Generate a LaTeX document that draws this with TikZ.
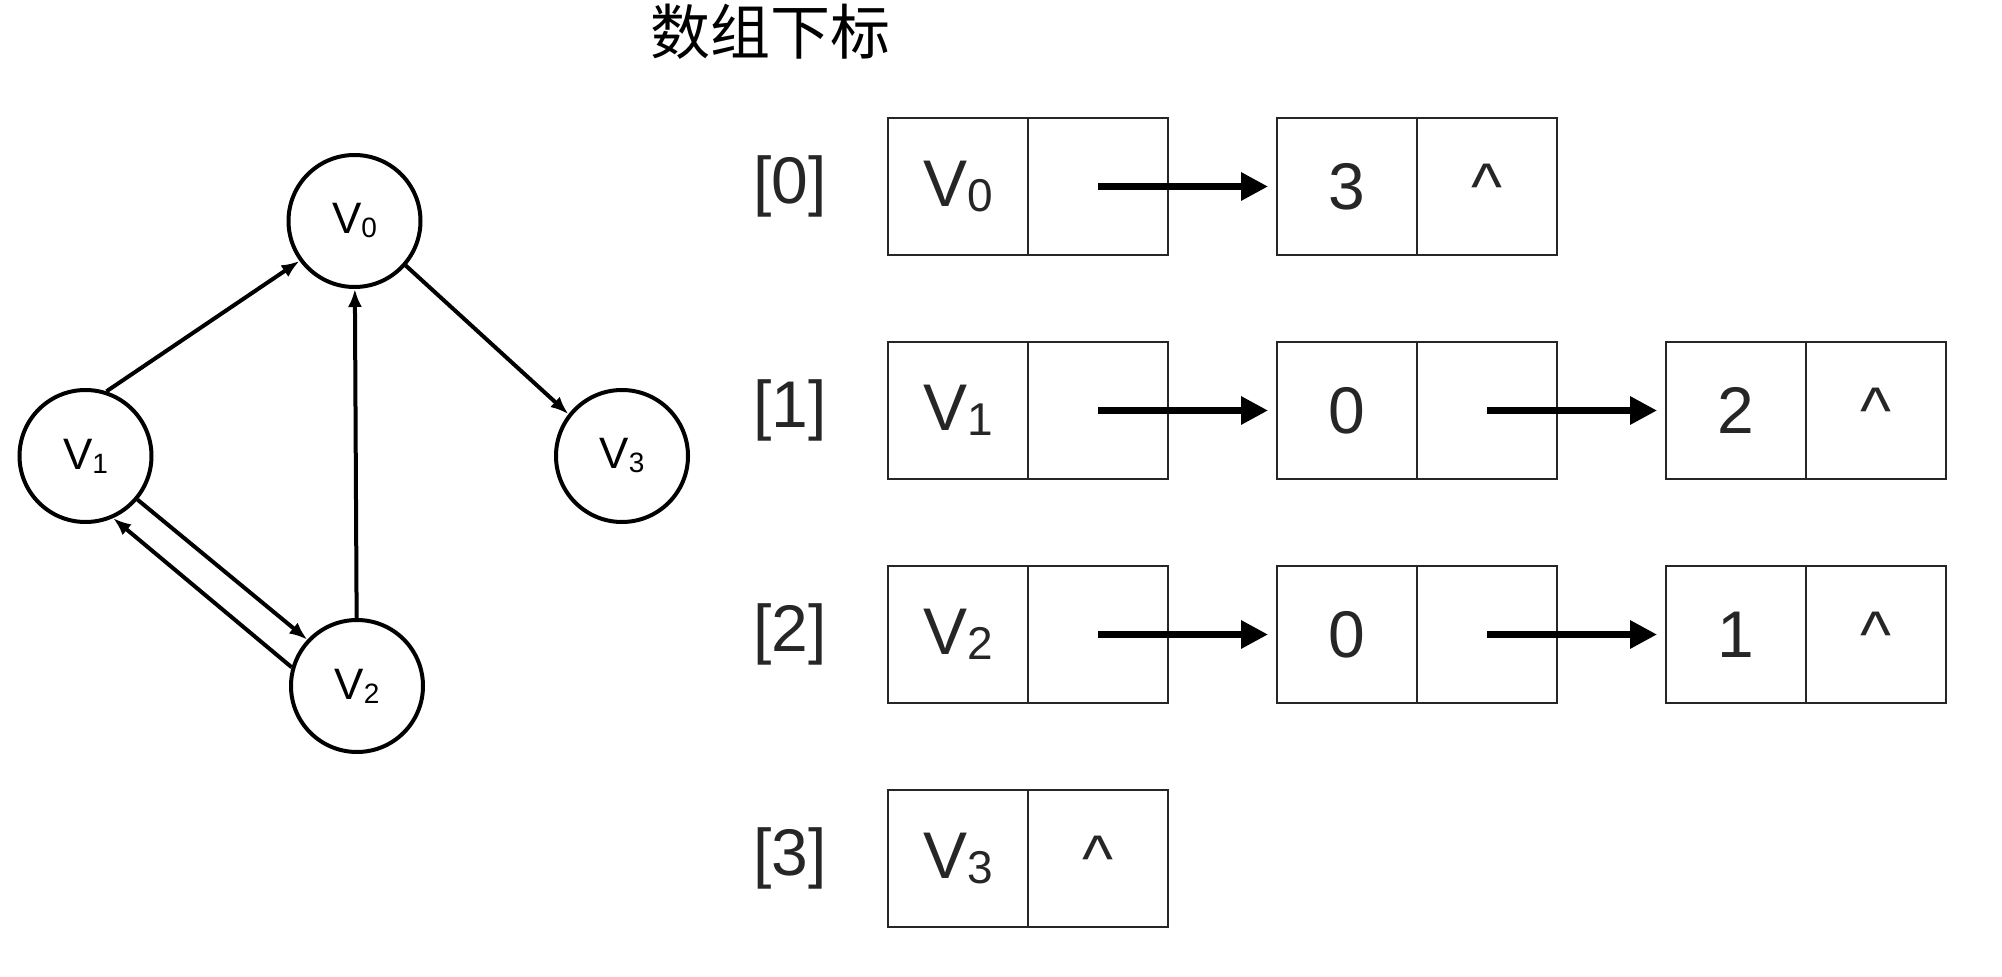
\documentclass[tikz,border=0pt]{standalone}
\usepackage{fontspec}
\setmainfont{Liberation Sans}
\newfontfamily\cjk{Noto Sans CJK SC}
\usetikzlibrary{positioning,arrows.meta}

\newcommand{\gv}[1]{\fontsize{22pt}{22pt}\selectfont V\raisebox{-2pt}{\fontsize{14pt}{14pt}\selectfont #1}}
\newcommand{\lv}[1]{V\raisebox{-2.5pt}{\fontsize{23pt}{23pt}\selectfont #1}}
\newcommand{\nil}{\vphantom{3}\textasciicircum}

\begin{document}
\begin{tikzpicture}
      \tikzstyle{vertex}=[circle, minimum size = 66pt, inner sep = 0pt, line width = 2pt, draw = black, on grid]
      \tikzstyle{connect}=[-{Latex[length=9pt, width=7pt]}, line width = 2pt]
      \tikzstyle{cell}=[rectangle, draw = black!85, line width = 1pt, minimum width = 70pt, minimum height = 68.5pt, inner sep = 0pt, outer sep = 0pt, text = black!85, font = \fontsize{33pt}{33pt}\selectfont]
      \tikzstyle{pointer}=[-{Triangle[length = 13.5pt, width = 13.5pt]}, line width = 3.2pt, shorten >= 4.5pt]
      \tikzstyle{index}=[inner sep = 0pt, text = black!85, font = \fontsize{33pt}{33pt}\selectfont]

      \useasboundingbox (0,0) rectangle (1001pt, 488pt);

      % graph
      \node[vertex] (v1) at (42.75pt, 260pt) {\gv{1}};
      \node[vertex] (v0) [above right = 117.5pt and 134.5pt of v1] {\gv{0}};
      \node[vertex] (v2) [below right = 115pt and 135.75pt of v1] {\gv{2}};
      \node[vertex] (v3) [right = 268.25pt of v1] {\gv{3}};

      \path (v1.72) edge [connect] (v0.216)
        (v2) edge [connect] (v0)
        (v0.-41) edge [connect] (v3.142)
        (v1.-40) edge [connect] (v2.137)
        (v2.164) edge [connect] (v1.-66);

      % title
      \node (title) at (385pt, 472pt) {\cjk\fontsize{30pt}{30pt}\selectfont 数组下标};

      % head cells
      \node[cell] (h0) at (479pt, 394.75pt) {\lv{0}};
      \node[cell] (hn0) [right = 0pt of h0] {};
      \node[cell] (h1) [below = 43.5pt of h0] {\lv{1}};
      \node[cell] (hn1) [right = 0pt of h1] {};
      \node[cell] (h2) [below = 43.5pt of h1] {\lv{2}};
      \node[cell] (hn2) [right = 0pt of h2] {};
      \node[cell] (h3) [below = 43.5pt of h2] {\lv{3}};
      \node[cell] (hn3) [right = 0pt of h3] {\nil};

      % indices
      \node[index] (i0) [left = 30.5pt of h0] {[0]};
      \node[index] (i1) [left = 30.5pt of h1] {[1]};
      \node[index] (i2) [left = 30.5pt of h2] {[2]};
      \node[index] (i3) [left = 30.5pt of h3] {[3]};

      % edge nodes
      \node[cell] (a0) [right = 54.5pt of hn0] {3};
      \node[cell] (an0) [right = 0pt of a0] {\nil};
      \node[cell] (a1) [right = 54.5pt of hn1] {0};
      \node[cell] (an1) [right = 0pt of a1] {};
      \node[cell] (b1) [right = 54.5pt of an1] {2};
      \node[cell] (bn1) [right = 0pt of b1] {\nil};
      \node[cell] (a2) [right = 54.5pt of hn2] {0};
      \node[cell] (an2) [right = 0pt of a2] {};
      \node[cell] (b2) [right = 54.5pt of an2] {1};
      \node[cell] (bn2) [right = 0pt of b2] {\nil};

      \path (hn0.center) edge [pointer] (a0)
        (hn1.center) edge [pointer] (a1)
        (an1.center) edge [pointer] (b1)
        (hn2.center) edge [pointer] (a2)
        (an2.center) edge [pointer] (b2);

    \end{tikzpicture}
\end{document}
